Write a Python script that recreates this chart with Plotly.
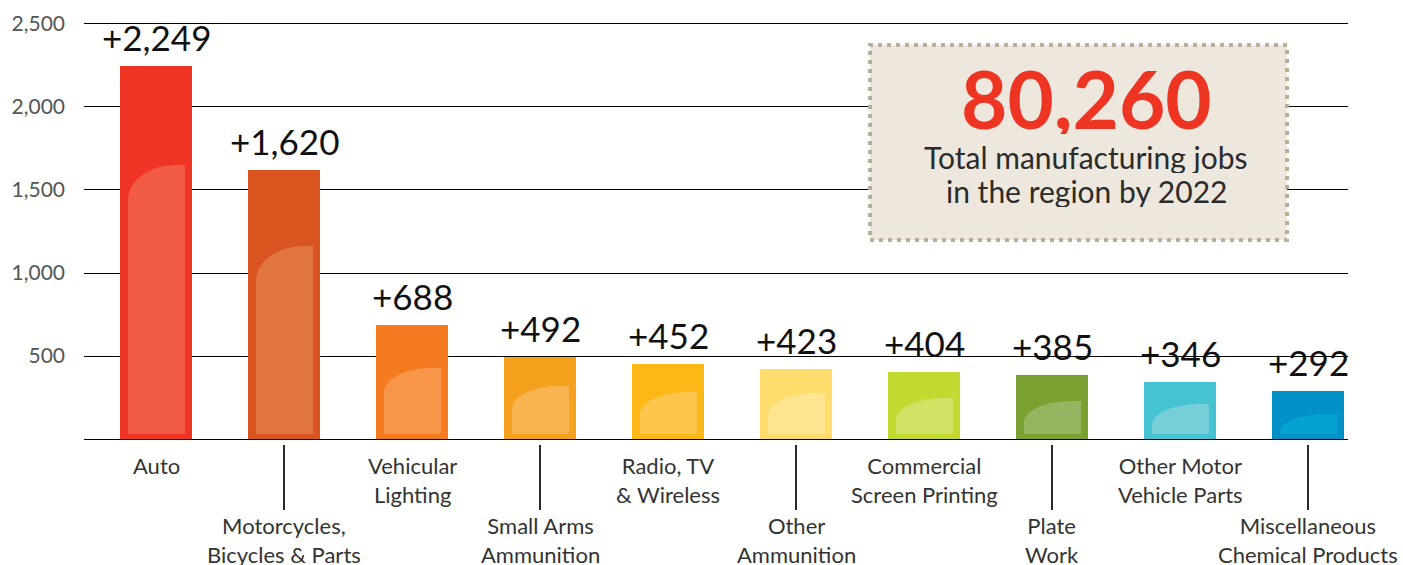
import plotly.graph_objects as go

# ---- data ----
categories = ["Auto", "Motorcycles,<br>Bicycles & Parts", "Vehicular<br>Lighting",
              "Small Arms<br>Ammunition", "Radio, TV<br>& Wireless", "Other<br>Ammunition",
              "Commercial<br>Screen Printing", "Plate<br>Work", "Other Motor<br>Vehicle Parts",
              "Miscellaneous<br>Chemical Products"]
job_growth = [2249, 1620, 688, 492, 452, 423, 404, 385, 346, 292]
highlight_top = [1650, 1163, 428, 319, 283, 277, 247, 229, 211, 150]
tick_values = [0, 500, 1000, 1500, 2000, 2500]
tick_labels = ["", "500", "1,000", "1,500", "2,000", "2,500"]
total_jobs = "80,260"
total_caption = ["Total manufacturing jobs", "in the region by 2022"]

bar_colors = ["#ef3424", "#da5420", "#f47b20", "#f5a11e", "#fdb815",
              "#ffdc6b", "#c3d92f", "#7ba230", "#46c3d3", "#0191c6"]
inner_colors = ["#f15b45", "#e17542", "#f79649", "#f8b451", "#fec54d",
                "#ffe58f", "#d1e164", "#95b561", "#76ced9", "#04a2d0"]

FONT = "Lato, 'Open Sans', sans-serif"
W, H = 1403, 565
ML, MR, MT, MB = 84, 55, 21, 0
XR = [-0.5625, 9.3125]
YR = [-759, 2518]
UX = (XR[1] - XR[0]) / (W - ML - MR)   # data units per px (x)
UY = (YR[1] - YR[0]) / (H - MT - MB)   # data units per px (y)
BW = 0.5625

xs = list(range(len(categories)))

fig = go.Figure()
fig.add_trace(go.Bar(x=xs, y=job_growth, width=BW, marker=dict(color=bar_colors, line=dict(width=0)),
                     hoverinfo="skip", showlegend=False))

shapes = []
annotations = []
k = 0.5523
for i, (v, t) in enumerate(zip(job_growth, highlight_top)):
    xl = i - BW / 2 + 8 * UX
    xr = i + BW / 2 - 7 * UX
    yb = 5 * UY
    h_px = (t - yb) / UY
    vr_px = min(35, 18 + 0.1 * h_px, 0.9 * h_px)
    vr = vr_px * UY
    hr = min(48 * UX, (xr - xl) * 0.85)
    y0 = t - vr
    path = (f"M {xl},{yb} L {xl},{y0} "
            f"C {xl},{y0 + k * vr} {xl + hr - k * hr},{t} {xl + hr},{t} "
            f"L {xr},{t} L {xr},{yb} Z")
    shapes.append(dict(type="path", path=path, xref="x", yref="y",
                       fillcolor=inner_colors[i], line=dict(width=0), layer="above"))
    # value label
    annotations.append(dict(x=i, y=v, xref="x", yref="y", text=f"+{v:,}", showarrow=False,
                            xanchor="center", yanchor="bottom", yshift=6,
                            font=dict(family=FONT, size=35, color="#111111")))
    # category label
    if i % 2 == 0:
        ytop = -66
    else:
        ytop = -428
        shapes.append(dict(type="line", x0=i, x1=i, y0=-36, y1=-428, xref="x", yref="y",
                           line=dict(color="#2b2b2b", width=2)))
    annotations.append(dict(x=i, y=ytop, xref="x", yref="y", text=categories[i], showarrow=False,
                            xanchor="center", yanchor="top", align="center",
                            font=dict(family=FONT, size=22, color="#333333")))

# callout box
shapes.append(dict(type="rect", xref="paper", yref="paper",
                   x0=(870 - ML) / (W - ML - MR), x1=(1287 - ML) / (W - ML - MR),
                   y0=(H - 240) / (H - MT), y1=(H - 45) / (H - MT),
                   fillcolor="#ede7de", line=dict(color="#b9ae98", width=4, dash="4px,5px"),
                   layer="above"))
cx = (1086 - ML) / (W - ML - MR)
annotations.append(dict(x=cx, y=(H - 98) / (H - MT), xref="paper", yref="paper", text=f"<b>{total_jobs}</b>",
                        showarrow=False, xanchor="center", yanchor="middle", height=72,
                        font=dict(family=FONT, size=80, color="#ee3524")))
for line, ypx in zip(total_caption, [157, 191]):
    annotations.append(dict(x=cx, y=(H - ypx) / (H - MT), xref="paper", yref="paper", text=line,
                            showarrow=False, xanchor="center", yanchor="middle", height=32,
                            font=dict(family=FONT, size=30, color="#2b2b2b")))

fig.update_layout(
    width=W, height=H,
    margin=dict(l=ML, r=MR, t=MT, b=MB, pad=0),
    plot_bgcolor="white", paper_bgcolor="white",
    shapes=shapes, annotations=annotations,
    xaxis=dict(range=XR, showgrid=False, zeroline=False, showticklabels=False, ticks="",
               showline=False, fixedrange=True),
    yaxis=dict(range=YR, tickvals=tick_values, ticktext=tick_labels, showgrid=True,
               gridcolor="#000000", gridwidth=1, zeroline=False, ticks="", showline=False,
               ticklabelstandoff=18,
               tickfont=dict(family=FONT, size=21, color="#555555"), fixedrange=True),
    bargap=0,
)

fig.write_html("out.html", config={"displayModeBar": False},
               post_script="document.body.style.margin='0';document.body.style.overflow='hidden';")
